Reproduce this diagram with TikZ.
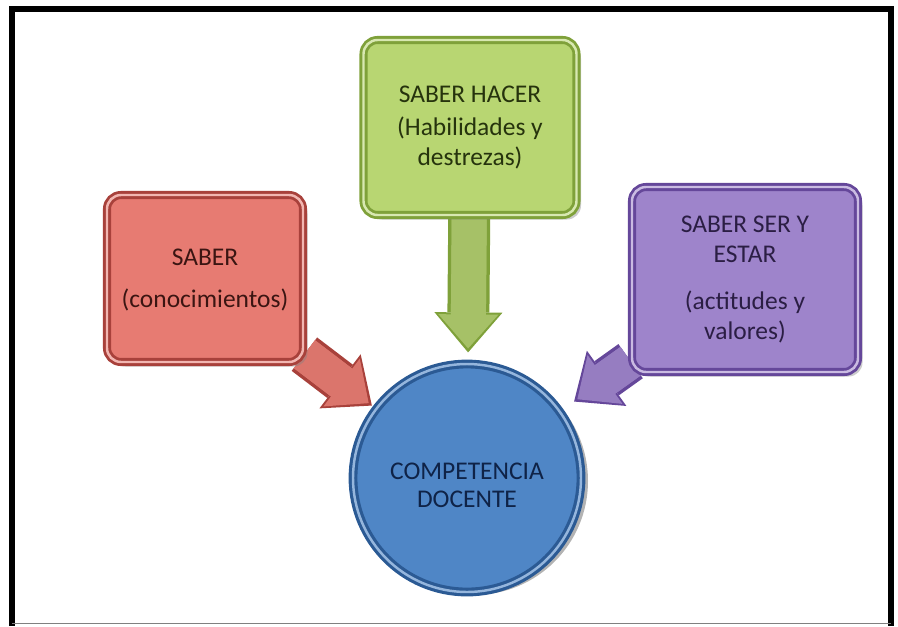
\documentclass[tikz,border=0pt]{standalone}
\usepackage{fontspec}
\setmainfont{Carlito}
\usepackage{tikz}
\usetikzlibrary{positioning, shapes.geometric, shadows, arrows.meta, backgrounds}

\definecolor{saberfill}{HTML}{E77B72}
\definecolor{saberline}{HTML}{A8413B}
\definecolor{sabertext}{HTML}{3B1512}
\definecolor{hacerfill}{HTML}{B8D672}
\definecolor{hacerline}{HTML}{7FA13A}
\definecolor{hacertext}{HTML}{26330D}
\definecolor{serfill}{HTML}{9E84CB}
\definecolor{serline}{HTML}{65479A}
\definecolor{sertext}{HTML}{2B1E44}
\definecolor{compfill}{HTML}{4F86C6}
\definecolor{compline}{HTML}{2B5A94}
\definecolor{comptext}{HTML}{0F2347}

\tikzset{
  box/.style={
    rectangle,
    rounded corners=8pt,
    line width=1.6pt,
    double distance=1.4pt,
    align=center,
    font=\fontsize{14.5}{17}\selectfont,
    drop shadow={opacity=0.4, shadow xshift=0.09cm, shadow yshift=-0.09cm}},
  arrowout/.style={line width=0.84cm, -{Triangle[width=1.36cm,length=0.8cm,line width=0pt]}},
  arrowin/.style={line width=0.7cm, -{Triangle[width=1.2cm,length=0.68cm,line width=0pt]}},
}

\begin{document}
\begin{tikzpicture}
  \useasboundingbox (0,0) rectangle (17.96,-12.52);

  % frame
  \draw[line width=0.12cm] (0.24,-12.52) -- (0.24,-0.18) -- (17.82,-0.18) -- (17.82,-12.52);
  \draw[gray, line width=0.6pt] (0.24,-12.47) -- (17.82,-12.47);

  \node[
  box,
  draw=hacerline,
  double=hacerfill!55!white,
  fill=hacerfill,
  text=hacertext,
  minimum width=4.26cm,
  minimum height=3.5cm,
  ] (hacer) at (9.40,-2.55) {SABER HACER\\[2pt](Habilidades y\\destrezas)};

  \node[
  below of=hacer,
  circle,
  draw=compline,
  double=compfill!60!white,
  line width=1.8pt,
  double distance=1.4pt,
  fill=compfill,
  text=comptext,
  align=center,
  font=\fontsize{14.5}{16}\selectfont,
  drop shadow={opacity=0.6, shadow xshift=0.14cm, shadow yshift=-0.06cm},
  minimum size=4.56cm,
  xshift=-0.06cm,
  yshift=-6.01cm] (comp) {\\[2pt]COMPETENCIA\\DOCENTE};

  \node[
  left of=hacer,
  box,
  draw=saberline,
  double=saberfill!55!white,
  fill=saberfill,
  text=sabertext,
  minimum width=3.92cm,
  minimum height=3.34cm,
  xshift=-4.3cm,
  yshift=-3.02cm] (saber) {\\[-6pt]SABER\\[7pt](conocimientos)};

  \node[
  right of=hacer,
  box,
  draw=serline,
  double=serfill!55!white,
  fill=serfill,
  text=sertext,
  minimum width=4.52cm,
  minimum height=3.7cm,
  xshift=4.5cm,
  yshift=-3.04cm] (ser) {SABER SER Y\\ESTAR\\[10pt](actitudes y\\valores)};

  \begin{scope}[on background layer]
    \draw[arrowout, draw=hacerline, shorten >=0.2cm] (hacer) -- (comp);
    \draw[arrowin, draw=hacerfill!90!black, shorten >=0.28cm] (hacer) -- (comp);
    \draw[line width=0.7cm, draw=hacerfill!90!black, shorten >=0.75cm] (hacer) -- (comp);
    \draw[arrowout, draw=saberline, shorten >=0.08cm] (saber) -- (comp);
    \draw[arrowin, draw=saberfill!95!black, shorten >=0.16cm] (saber) -- (comp);
    \draw[line width=0.7cm, draw=saberfill!95!black, shorten >=0.63cm] (saber) -- (comp);
    \draw[arrowout, draw=serline, shorten >=0.32cm] (ser) -- (comp);
    \draw[arrowin, draw=serfill!95!black, shorten >=0.4cm] (ser) -- (comp);
    \draw[line width=0.7cm, draw=serfill!95!black, shorten >=0.87cm] (ser) -- (comp);
  \end{scope}
\end{tikzpicture}
\end{document}
